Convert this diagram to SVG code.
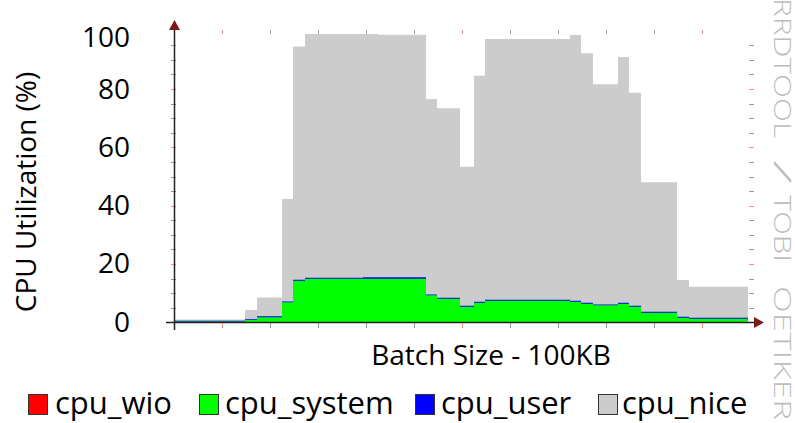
<svg xmlns="http://www.w3.org/2000/svg" width="795" height="423" viewBox="0 0 795 423">
<style>
.t{font-family:"Open Sans","Liberation Sans",sans-serif;fill:#000}
.lab{font-size:28px}
.leg{font-size:31px}
.minor{stroke:#9a9a9a;stroke-width:1;fill:none}
.major{stroke:#ff8c8c;stroke-width:1;fill:none}
.box{stroke:#333;stroke-width:1}
.wm{font-family:"Open Sans","DejaVu Sans",sans-serif;font-size:24px;fill:#bdbdbd;font-weight:300}
</style>
<rect width="795" height="423" fill="#fff"/>
<g id="data">
<polygon fill="#cccccc" points="174,322 174,319.5 245,319.5 245,310 257,310 257,297.5 282,297.5 282,199 293,199 293,46.5 305,46.5 305,34 378,34 378,34.7 426,34.7 426,99 437,99 437,108.3 460,108.3 460,166.7 474,166.7 474,75.7 485,75.7 485,39 570,39 570,35 581,35 581,53.3 593,53.3 593,84.3 618,84.3 618,57 629,57 629,92.7 641,92.7 641,182.3 677,182.3 677,280 689,280 689,286.7 748,286.7 748,322"/>
<polygon fill="#0000ff" points="174,322 174,320.8 245,320.8 245,319.3 257,319.3 257,316.3 282,316.3 282,301.5 293,301.5 293,279.7 305,279.7 305,277.8 363,277.8 363,277.2 426,277.2 426,294.5 437,294.5 437,297.8 460,297.8 460,305.7 474,305.7 474,301.8 485,301.8 485,299.8 570,299.8 570,300.8 581,300.8 581,302.8 593,302.8 593,304.4 618,304.4 618,302.8 629,302.8 629,305.8 641,305.8 641,311.8 677,311.8 677,316.8 689,316.8 689,317.8 748,317.8 748,322"/>
<polygon fill="#00ff00" points="174,322 174,321.5 245,321.5 245,320 257,320 257,317.3 282,317.3 282,302.3 293,302.3 293,280.7 305,280.7 305,278.7 426,278.7 426,295.3 437,295.3 437,298.7 460,298.7 460,306.7 474,306.7 474,302.7 485,302.7 485,300.7 570,300.7 570,301.7 581,301.7 581,303.7 593,303.7 593,305.3 618,305.3 618,303.7 629,303.7 629,306.7 641,306.7 641,312.7 677,312.7 677,317.7 689,317.7 689,318.7 748,318.7 748,322"/>
</g>
<g id="grid">
<path class="minor" d="M171,45.5h5M171,60.5h5M171,74.5h5M171,104.5h5M171,118.5h5M171,133.5h5M171,162.5h5M171,177.5h5M171,191.5h5M171,220.5h5M171,235.5h5M171,249.5h5M171,279.5h5M171,293.5h5M171,308.5h5"/>
<path class="major" d="M171,89.5h5M171,147.5h5M171,206.5h5M171,264.5h5"/>
<path class="minor" d="M749,45.5h5M749,60.5h5M749,74.5h5M749,104.5h5M749,118.5h5M749,133.5h5M749,162.5h5M749,177.5h5M749,191.5h5M749,220.5h5M749,235.5h5M749,249.5h5M749,279.5h5M749,293.5h5M749,308.5h5"/>
<path class="major" d="M749,89.5h5M749,147.5h5M749,206.5h5M749,264.5h5"/>
<path class="minor" d="M270.5,30v4M318.5,30v4M366.5,30v4M414.5,30v4M510.5,30v4M558.5,30v4M606.5,30v4M654.5,30v4"/>
<path class="major" d="M222.5,30v4M462.5,30v4M702.5,30v4"/>
<path class="minor" d="M270.5,323v5M318.5,323v5M366.5,323v5M414.5,323v5M510.5,323v5M558.5,323v5M606.5,323v5M654.5,323v5"/>
<path class="major" d="M222.5,323v5M462.5,323v5M702.5,323v5"/>
</g>
<g id="axes">
<path d="M174.5,29V330M166,322.5H754" stroke="#222" stroke-width="1.5" fill="none"/>
<polygon points="174.5,20 169,30 180,30" fill="#7a1a1a"/>
<polygon points="764,322.5 754,317 754,328" fill="#7a1a1a"/>
</g>
<g id="labels" class="t lab">
<text x="130" y="47" text-anchor="end">100</text>
<text x="130" y="99" text-anchor="end">80</text>
<text x="130" y="157" text-anchor="end">60</text>
<text x="130" y="215" text-anchor="end">40</text>
<text x="130" y="273" text-anchor="end">20</text>
<text x="130" y="332" text-anchor="end">0</text>
<text x="491" y="365" text-anchor="middle">Batch Size - 100KB</text>
<text transform="translate(36,192) rotate(-90)" text-anchor="middle">CPU Utilization (%)</text>
</g>
<g id="legend" class="t leg">
<g id="leg-wio"><rect class="box" x="28.5" y="394.5" width="19" height="20" fill="#ff0000"/><text x="55" y="414">cpu_wio</text></g>
<g id="leg-system"><rect class="box" x="199.5" y="394.5" width="19" height="20" fill="#00ff00"/><text x="225" y="414">cpu_system</text></g>
<g id="leg-user"><rect class="box" x="415.5" y="394.5" width="19" height="20" fill="#0000ff"/><text x="441" y="414">cpu_user</text></g>
<g id="leg-nice"><rect class="box" x="598.5" y="394.5" width="19" height="20" fill="#cccccc"/><text x="622" y="414">cpu_nice</text></g>
</g>
<text class="wm" transform="translate(774,0) rotate(90)" y="0"><tspan x="-2" textLength="140" lengthAdjust="spacingAndGlyphs">RRDTOOL</tspan> <tspan x="160" textLength="24" lengthAdjust="spacingAndGlyphs">/</tspan> <tspan x="195" textLength="67" lengthAdjust="spacingAndGlyphs">TOBI</tspan> <tspan x="286" textLength="134" lengthAdjust="spacingAndGlyphs">OETIKER</tspan></text>
</svg>
